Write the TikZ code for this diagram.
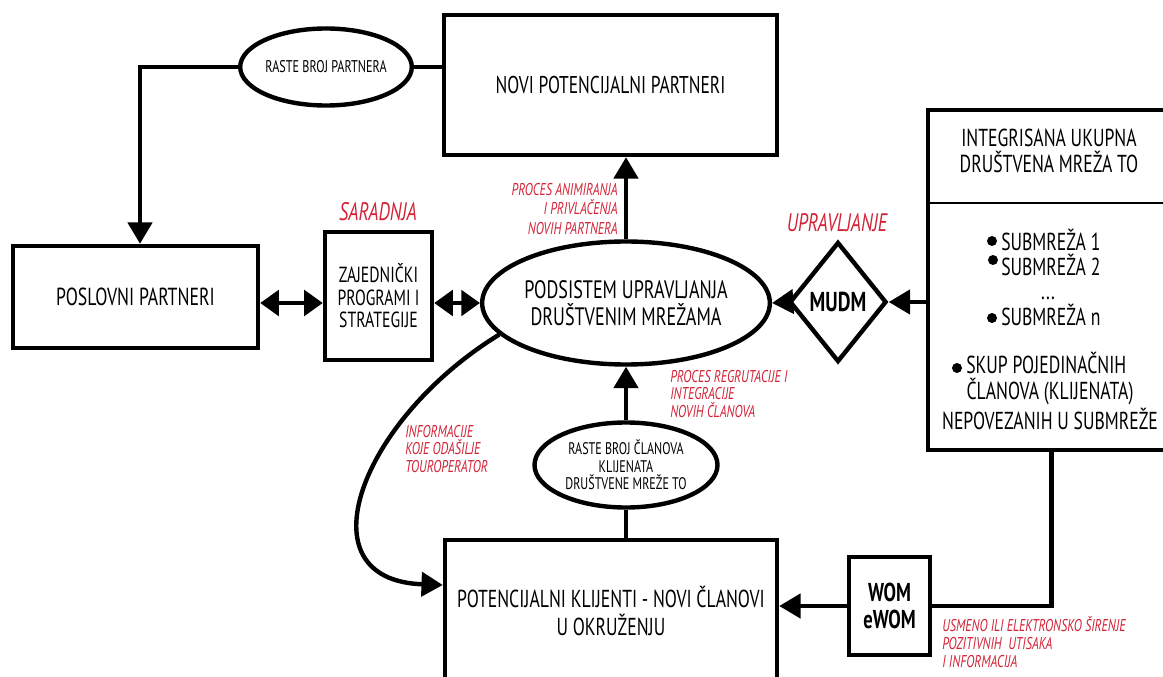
\documentclass[tikz,border=0pt]{standalone}
\usepackage{fontspec}
\setmainfont{PT Sans}[FakeStretch=0.72]
\usetikzlibrary{shapes.geometric,arrows.meta}
\definecolor{lbl}{RGB}{210,35,55}
\tikzset{
 box/.style={draw,line width=3.3pt,rectangle,inner sep=0pt,align=center},
 ell/.style={draw,line width=3.3pt,ellipse,inner sep=0pt,align=center},
 conn/.style={line width=3.3pt},
 arr/.style={conn,-{Triangle[length=16pt,width=18pt]}},
 darr/.style={conn,{Triangle[length=14pt,width=19pt]}-{Triangle[length=14pt,width=19pt]}},
 redl/.style={text=lbl,font=\itshape\fontsize{12.8}{13.3}\selectfont,inner sep=0pt},
 redbig/.style={text=lbl,font=\itshape\fontsize{19}{21}\selectfont,inner sep=0pt},
 itxt/.style={inner sep=0pt,font=\fontsize{18.4}{20}\selectfont},
 bul/.style={circle,fill,inner sep=0pt,minimum size=7.5pt},
}
\begin{document}
\begin{tikzpicture}[x=0.75pt,y=-0.75pt]
\useasboundingbox (0,0) rectangle (1163,677);
% boxes
\node[box,minimum width=333*0.75pt,minimum height=140*0.75pt,font=\fontsize{18.2}{21}\selectfont] (novi) at (610.5,85) {NOVI POTENCIJALNI PARTNERI};
\node[box,minimum width=245*0.75pt,minimum height=102*0.75pt,font=\fontsize{18.5}{21}\selectfont] (posl) at (135.5,297) {POSLOVNI PARTNERI};
\node[box,minimum width=107*0.75pt,minimum height=128*0.75pt,font=\fontsize{16.4}{16.8}\selectfont] (zaj) at (378.5,296) {ZAJEDNIČKI\\PROGRAMI I\\STRATEGIJE};
\node[ell,minimum width=262*0.75pt,minimum height=123*0.75pt,font=\fontsize{18.9}{20.5}\selectfont] (pod) at (626,303) {PODSISTEM UPRAVLJANJA\\DRUŠTVENIM MREŽAMA};
\node[ell,minimum width=157*0.75pt,minimum height=77*0.75pt,font=\fontsize{12.7}{14}\selectfont] (rbp) at (326,67) {RASTE BROJ PARTNERA};
\node[ell,minimum width=183*0.75pt,minimum height=85*0.75pt,font=\fontsize{12.6}{13.2}\selectfont] (rbc) at (626,465) {RASTE BROJ ČLANOVA\\KLIJENATA\\DRUŠTVENE MREŽE TO};
\node[draw,line width=3.3pt,diamond,inner sep=0pt,minimum width=97*0.75pt,minimum height=120*0.75pt,font=\bfseries\fontsize{20.5}{22}\selectfont] (mudm) at (838,302) {MUDM};
\node[box,minimum width=247*0.75pt,minimum height=340*0.75pt] (integ) at (1051.5,280) {};
\node[box,minimum width=81*0.75pt,minimum height=98*0.75pt,font=\bfseries\fontsize{19.4}{20.5}\selectfont] (wom) at (889.5,606) {WOM\\eWOM};
\node[box,minimum width=332*0.75pt,minimum height=142*0.75pt,font=\fontsize{18.4}{20.5}\selectfont] (pot) at (611,611) {POTENCIJALNI KLIJENTI - NOVI ČLANOVI\\U OKRUŽENJU};
% integ contents
\draw[line width=1pt] (integ.west |- 0,203) -- (integ.east |- 0,203);
\node[itxt,align=center] (it1) at (1049,151) {INTEGRISANA UKUPNA\\DRUŠTVENA MREŽA TO};
\node[bul] (b1) at (992,241) {};
\node[itxt,anchor=west] (s1) at (1001,240) {SUBMREŽA 1};
\node[bul] (b2) at (993,260) {};
\node[itxt,anchor=west] (s2) at (1001,265) {SUBMREŽA 2};
\node[itxt] (dots) at (1048,298) {...};
\node[bul] (b3) at (992,318) {};
\node[itxt,anchor=west] (s3) at (1001,315) {SUBMREŽA n};
\node[bul] (b4) at (957,368) {};
\node[itxt,anchor=west] (s4) at (966,363) {SKUP POJEDINAČNIH};
\node[itxt] (s5) at (1050,392) {ČLANOVA (KLIJENATA)};
\node[itxt] (s6) at (1050,419) {NEPOVEZANIH U SUBMREŽE};
% red labels
\node[redbig] (sar) at (378,212) {SARADNJA};
\node[redbig] (upr) at (837,223) {UPRAVLJANJE};
\node[redl,anchor=east,align=right,font=\itshape\fontsize{12.8}{14.3}\selectfont] (l1) at (618,209) {PROCES ANIMIRANJA\\I PRIVLAČENJA\\NOVIH PARTNERA};
\node[redl,anchor=west,align=left] (l2) at (670,394) {PROCES REGRUTACIJE I\\INTEGRACIJE\\NOVIH ČLANOVA};
\node[redl,anchor=west,align=left] (l3) at (405,449) {INFORMACIJE\\KOJE ODAŠILJE\\TOUROPERATOR};
\node[redl,anchor=west,align=left,font=\itshape\fontsize{12.8}{13.6}\selectfont] (l4) at (942,642) {USMENO ILI ELEKTRONSKO ŠIRENJE\\POZITIVNIH\ \ UTISAKA\\I INFORMACIJA};
% connectors
\coordinate (c1) at (140,67);
\draw[conn] (rbp.east) -- (novi.west |- rbp.east);
\draw[arr] (rbp.west) -- (c1) -- (c1 |- posl.north);
\draw[darr] (posl.east |- pod.west) -- (zaj.west |- pod.west);
\draw[darr] (zaj.east |- pod.west) -- (pod.west);
\draw[arr] (pod.north) -- (pod.north |- novi.south);
\draw[arr] (integ.west |- mudm.east) -- (mudm.east);
\draw[arr] (mudm.west) -- (pod.east);
\draw[conn] (integ.south) -- (integ.south |- wom.east) -- (wom.east);
\draw[arr] (wom.west) -- (pot.east |- wom.west);
\draw[conn] (rbc.south |- pot.north) -- (rbc.south);
\draw[arr] (rbc.north) -- (pod.south);
\draw[arr] (pod.194) .. controls (360,420) and (300,580) .. (pot.west |- 0,585);
\end{tikzpicture}
\end{document}
